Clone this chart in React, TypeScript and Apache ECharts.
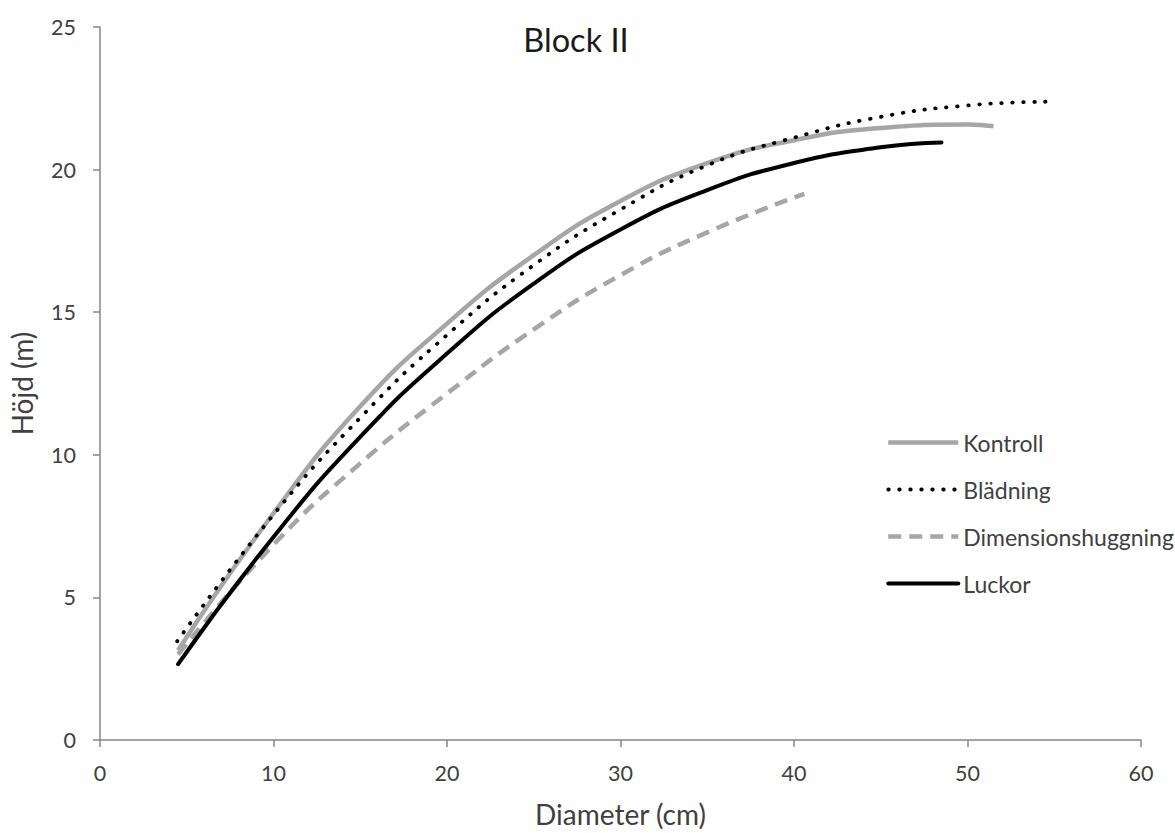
import React, { useEffect, useRef } from "react";
import * as echarts from "echarts";

const title = "Block II";
const xName = "Diameter (cm)";
const yName = "Höjd (m)";
const xTicks = { min: 0, max: 60, interval: 10 };
const yTicks = { min: 0, max: 25, interval: 5 };

const seriesNames = ["Kontroll", "Blädning", "Dimensionshuggning", "Luckor"];

const kontrollD = [4.5, 10, 15, 20, 25, 30, 35, 40, 45, 50, 51.5];
const kontrollH = [3.15, 7.95, 11.7, 14.6, 17.0, 18.9, 20.23, 21.03, 21.46, 21.58, 21.52];

const bladningD = [4.45, 10, 15, 20, 25, 30, 35, 40, 45, 50, 54.5];
const bladningH = [3.46, 7.9, 11.3, 14.2, 16.65, 18.6, 20.15, 21.12, 21.85, 22.25, 22.38];

const dimensionD = [4.5, 10, 15, 20, 25, 30, 35, 40.6];
const dimensionH = [3.0, 6.85, 9.7, 12.15, 14.4, 16.3, 17.8, 19.15];

const luckorD = [4.5, 10, 15, 20, 25, 30, 35, 40, 45, 48.5];
const luckorH = [2.66, 7.12, 10.63, 13.55, 16.0, 17.9, 19.28, 20.23, 20.78, 20.95];

const pairs = (xs: number[], ys: number[]) => xs.map((x, i) => [x, ys[i]]);

const FONT = "Lato";
const TXT = "#404040";
const AXIS = "#868686";

export default function App() {
  const ref = useRef<HTMLDivElement>(null);
  useEffect(() => {
    if (!ref.current) return;
    const chart = echarts.init(ref.current, null, { renderer: "svg" });
    const axisCommon = {
      type: "value" as const,
      axisLine: { show: true, lineStyle: { color: AXIS, width: 1.5 } },
      axisTick: { show: true, length: 7, lineStyle: { color: AXIS, width: 1.5 } },
      splitLine: { show: false },
      axisLabel: { fontFamily: FONT, fontSize: 21.5, color: TXT },
      nameLocation: "middle" as const,
      nameTextStyle: { fontFamily: FONT, fontSize: 28, color: TXT },
    };
    const lineCommon = { type: "line" as const, smooth: 0.5, symbol: "none" };
    chart.setOption({
      animation: false,
      backgroundColor: "#ffffff",
      title: {
        text: title,
        left: 571,
        top: 18,
        textAlign: "center",
        textStyle: { fontFamily: FONT, fontSize: 32.5, fontWeight: "normal", color: "#1a1a1a" },
      },
      grid: { left: 99, right: 34, top: 27, bottom: 91, containLabel: false },
      xAxis: {
        ...axisCommon,
        ...xTicks,
        name: xName,
        nameGap: 60,
        axisLabel: { ...axisCommon.axisLabel, margin: 22 },
      },
      yAxis: {
        ...axisCommon,
        ...yTicks,
        name: yName,
        nameGap: 64,
        axisLabel: { ...axisCommon.axisLabel, margin: 24 },
      },
      legend: {
        orient: "vertical",
        left: 881,
        top: 426,
        itemWidth: 70,
        itemHeight: 20,
        itemGap: 24,
        itemStyle: { opacity: 0 },
        lineStyle: { width: "inherit" },
        textStyle: { fontFamily: FONT, fontSize: 23, color: TXT },
        data: seriesNames,
      },
      series: [
        {
          ...lineCommon,
          name: seriesNames[0],
          data: pairs(kontrollD, kontrollH),
          lineStyle: { color: "#a6a6a6", width: 4.5 },
          itemStyle: { color: "#a6a6a6" },
          z: 2,
        },
        {
          ...lineCommon,
          name: seriesNames[1],
          data: pairs(bladningD, bladningH),
          lineStyle: { color: "#000000", width: 3.8, type: [0.5, 10.5], cap: "round" },
          itemStyle: { color: "#000000" },
          z: 3,
        },
        {
          ...lineCommon,
          name: seriesNames[2],
          data: pairs(dimensionD, dimensionH),
          lineStyle: { color: "#a6a6a6", width: 4.5, type: [13, 8] },
          itemStyle: { color: "#a6a6a6" },
          z: 2,
        },
        {
          ...lineCommon,
          name: seriesNames[3],
          data: pairs(luckorD, luckorH),
          lineStyle: { color: "#000000", width: 4, cap: "round" },
          itemStyle: { color: "#000000" },
          z: 4,
        },
      ],
    });
    return () => chart.dispose();
  }, []);
  return (
    <div
      ref={ref}
      style={{ position: "fixed", left: 0, top: 0, width: 1175, height: 833, background: "#fff" }}
    />
  );
}
